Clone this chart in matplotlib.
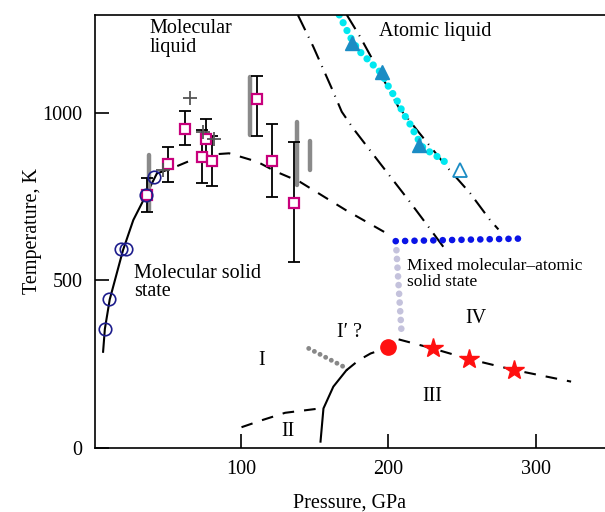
import matplotlib
matplotlib.use('Agg')
import matplotlib.pyplot as plt

plt.rcParams['font.family'] = ['Liberation Serif', 'DejaVu Serif']

# melting curve of the molecular solid (solid line) and its dashed extension
melt_p = [6.5, 7.7, 11, 20, 27, 35, 43]
melt_t = [287, 355, 443, 590, 680, 749, 819]
melt_dash_p = [43, 53, 65, 82, 92, 111, 124, 140, 171, 199]
melt_dash_t = [819, 834, 856, 876, 879, 854, 824, 794, 710, 640]

# open circles on the melting curve
circ_p = [7.7, 10.4, 18.5, 21.9, 35.5, 40.9]
circ_t = [355, 444, 593, 593, 755, 808]

# squares with error bars
sq_p = [36.6, 50.7, 62, 73.3, 76.2, 80.1, 111.1, 120.8, 136.2]
sq_t = [755, 846, 953, 869, 921, 856, 1041, 855, 731]
sq_lo = [50, 52, 49, 78, 59, 76, 110, 107, 177]
sq_hi = [51, 53, 52, 81, 59, 76, 69, 111, 181]

# gray plus marks
plus_p = [65.4, 74.4, 81.7, 47.3]
plus_t = [1043, 943, 921, 829]

# thick gray bars (pressure, T low, T high)
bar_p = [37.8, 106.1, 137.8, 147]
bar_lo = [710, 935, 784, 829]
bar_hi = [874, 1107, 973, 916]

# atomic liquid boundary (cyan dots) and triangles
cyan_p = [166.7, 169.4, 174, 179.6, 187.6, 195.5, 200, 205.7, 210.2, 215.9, 218.2, 223.8, 231.7, 237.4, 243]
cyan_t = [1292, 1268, 1227, 1187, 1152, 1117, 1079, 1038, 998, 958, 936, 894, 874, 856, 844]
tri_p = [175.1, 195.5, 221.1]
tri_t = [1209, 1122, 904]
tri_open_p = [248.7]
tri_open_t = [829]

# dash-dot lines
dd1_p = [138.7, 149.1, 161.6, 168.4, 176.2, 194.4, 213.6, 227.2, 238]
dd1_t = [1291, 1197, 1073, 1003, 953, 849, 740, 660, 596]
dd2_p = [171.8, 180.8, 206.8, 220.4, 239.6, 255.5, 269, 274.7]
dd2_t = [1292, 1227, 1018, 943, 839, 760, 680, 652]

# mixed solid boundaries
blue_p = [205, 294]
blue_t = [617, 625]
lav_p = [205.5, 209]
lav_t = [590, 342]

# solid phase boundaries
i3_p = [154, 156, 162.7, 171.6]
i3_t = [19, 118, 183, 232]
i3_dash_p = [171.6, 180, 188, 200]
i3_dash_t = [232, 262, 282, 300]
iv_p = [207, 230, 255, 285, 324]
iv_t = [324, 297, 265, 233, 198]
ii_p = [100.4, 115, 130, 153.6]
ii_t = [62, 84, 105, 118]
ip_p = [146, 171.6]
ip_t = [297, 238]

triple_p = [200]
triple_t = [300]
star_p = [230, 254.8, 285.5]
star_t = [297, 264.5, 232.6]

fig = plt.figure(figsize=(6.05, 5.12), dpi=100)
ax = fig.add_axes([0.157, 0.125, 0.843, 0.846])

dash = (0, (5.6, 4.8))
dashdot = (0, (8, 3.5, 0.5, 3.5))

ax.plot(melt_p, melt_t, color='black', lw=1.5)
ax.plot(melt_dash_p, melt_dash_t, color='black', lw=1.5, ls=dash)
ax.plot(dd1_p, dd1_t, color='black', lw=1.5, ls=dashdot)
ax.plot(dd2_p, dd2_t, color='black', lw=1.5, ls=dashdot)

ax.plot(ii_p, ii_t, color='black', lw=1.5, ls=dash)
ax.plot(i3_p, i3_t, color='black', lw=1.5)
ax.plot(i3_dash_p, i3_dash_t, color='black', lw=1.5, ls=dash)
ax.plot(iv_p, iv_t, color='black', lw=1.5, ls=dash)
ax.plot(ip_p, ip_t, color='#888888', lw=3.5, ls=(0, (0.01, 1.3)), dash_capstyle='round')

ax.plot(blue_p, blue_t, color='#0a14e6', lw=4.8, ls=(0, (0.01, 1.4)), dash_capstyle='round')
ax.plot(lav_p, lav_t, color='#c4c2dc', lw=4.8, ls=(0, (0.01, 1.3)), dash_capstyle='round')
ax.plot(cyan_p, cyan_t, color='#00e8f0', lw=5.2, ls=(0, (0.01, 1.2)), dash_capstyle='round')

for p, lo, hi in zip(bar_p, bar_lo, bar_hi):
    ax.plot([p, p], [lo, hi], color='#8a8a8a', lw=3.2, solid_capstyle='round')

ax.errorbar(sq_p, sq_t, yerr=[sq_lo, sq_hi], fmt='none', ecolor='black',
            elinewidth=1.3, capsize=4, capthick=1.3)
ax.plot(sq_p, sq_t, 's', ms=7, mfc='white', mec='#c8007c', mew=1.6)
ax.plot(plus_p, plus_t, '+', ms=10, mew=1.3, color='#555555')
ax.plot(circ_p, circ_t, 'o', ms=9, mfc='none', mec='#1c1c8c', mew=1.2)

ax.plot(tri_p, tri_t, '^', ms=10, color='#1b8cc4')
ax.plot(tri_open_p, tri_open_t, '^', ms=10, mfc='white', mec='#1b8cc4', mew=1.3)

ax.plot(triple_p, triple_t, 'o', ms=11, color='#ff1010')
ax.plot(star_p, star_t, '*', ms=15, color='#ff1010')

fs = 14.5
ax.text(38, 1223, 'Molecular\nliquid', fontsize=fs, va='center', ha='left', linespacing=0.95)
ax.text(194, 1242, 'Atomic liquid', fontsize=fs, va='center', ha='left')
ax.text(27.6, 494, 'Molecular solid\nstate', fontsize=fs, va='center', ha='left', linespacing=0.95)
ax.text(212.7, 518, 'Mixed molecular\u2013atomic\nsolid state', fontsize=12.5,
        va='center', ha='left', linespacing=1.0)
ax.text(114.3, 262, 'I', fontsize=fs, ha='center', va='center')
ax.text(174, 346, 'I\u2032 ?', fontsize=fs, ha='center', va='center')
ax.text(132, 49, 'II', fontsize=fs, ha='center', va='center')
ax.text(230, 153, 'III', fontsize=fs, ha='center', va='center')
ax.text(259.5, 385, 'IV', fontsize=fs, ha='center', va='center')

ax.set_xlim(1, 347)
ax.set_ylim(0, 1292)
ax.set_xticks([100, 200, 300])
ax.set_yticks([0, 500, 1000])
ax.tick_params(direction='in', length=10, width=1.2, labelsize=fs)
ax.tick_params(axis='x', pad=9)
ax.tick_params(axis='y', pad=9)
ax.spines['right'].set_visible(False)
for s in ['left', 'bottom', 'top']:
    ax.spines[s].set_linewidth(1.2)

ax.set_xlabel('Pressure, GPa', fontsize=fs, labelpad=10)
ax.set_ylabel('Temperature, K', fontsize=fs, labelpad=0)

fig.savefig('out.png', dpi=100)
